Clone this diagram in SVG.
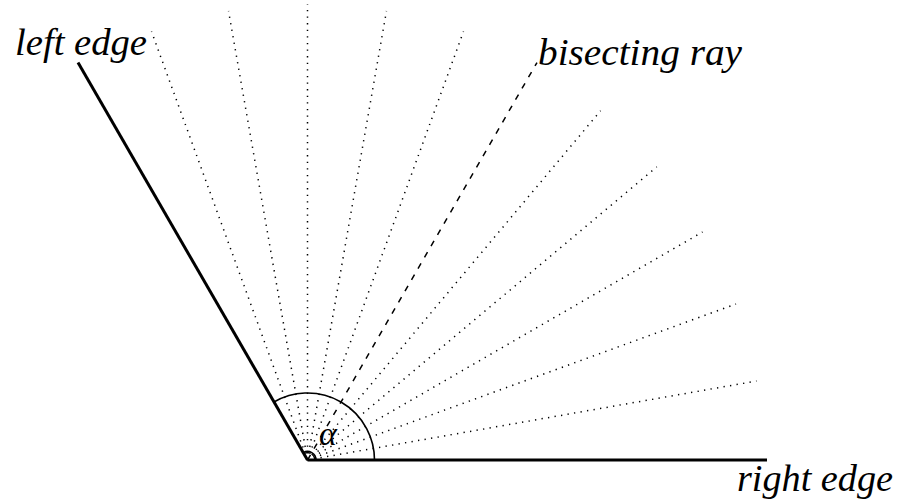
<svg xmlns="http://www.w3.org/2000/svg" width="898" height="503" viewBox="0 0 898 503">
<style>
.edge{stroke:#000;stroke-width:3;fill:none}
.ray{stroke:#000;stroke-width:1.5;fill:none;stroke-dasharray:1.3 5.3}
.bis{stroke:#000;stroke-width:1.5;fill:none;stroke-dasharray:6 7}
.arc{stroke:#000;stroke-width:1.6;fill:none}
.lbl{font-family:"Liberation Serif","Times New Roman",serif;font-style:italic;font-size:38px;fill:#000}
</style>
<rect width="898" height="503" fill="#fff"/>
<g id="connectors">
<g id="rays" transform="translate(307.5,460)">
<line class="ray" x1="0" y1="0" x2="449" y2="-79"/>
<line class="ray" x1="0" y1="0" x2="428.5" y2="-156"/>
<line class="ray" x1="0" y1="0" x2="395" y2="-228"/>
<line class="ray" x1="0" y1="0" x2="349.3" y2="-293.1"/>
<line class="ray" x1="0" y1="0" x2="293.1" y2="-349.3"/>
<line class="ray" x1="0" y1="0" x2="156" y2="-428.5"/>
<line class="ray" x1="0" y1="0" x2="79" y2="-449"/>
<line class="ray" x1="0" y1="0" x2="0" y2="-456"/>
<line class="ray" x1="0" y1="0" x2="-79" y2="-449"/>
<line class="ray" x1="0" y1="0" x2="-156" y2="-428.5"/>
<line class="bis" x1="0" y1="0" x2="229.5" y2="-397.5"/>
</g>
</g>
<g id="left-edge"><line class="edge" x1="307.5" y1="460" x2="78" y2="62.5"/></g>
<g id="right-edge"><line class="edge" x1="307.5" y1="460" x2="767" y2="460"/></g>
<g id="angle">
<path class="arc" d="M374.5,460 A67,67 0 0 0 274,402"/>
<path class="arc" d="M316,460 A8.5,8.5 0 0 0 303.3,452.6"/>
<text x="319" y="445" style="font-family:'Liberation Serif',serif;font-style:italic;font-size:34px">α</text>
</g>
<g id="labels">
<text class="lbl" x="15" y="55" textLength="132" lengthAdjust="spacingAndGlyphs">left edge</text>
<text class="lbl" x="538" y="65" textLength="204" lengthAdjust="spacingAndGlyphs">bisecting ray</text>
<text class="lbl" x="737" y="491" textLength="156" lengthAdjust="spacingAndGlyphs">right edge</text>
</g>
</svg>
